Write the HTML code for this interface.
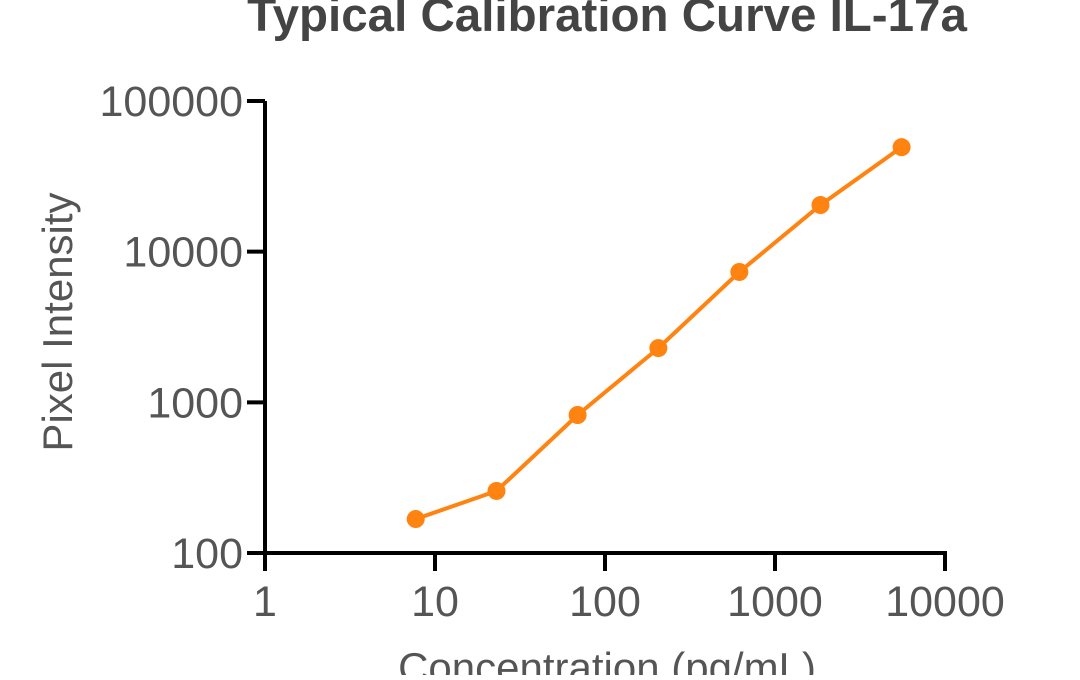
<!DOCTYPE html>
<html><head><meta charset="utf-8"><style>
body{margin:0;background:#fff;}
svg text{font-family:"Liberation Sans",Arial,sans-serif;}
</style></head><body>
<svg width="1080" height="675" viewBox="0 0 1080 675">
<text x="607" y="31" text-anchor="middle" font-size="47.5" font-weight="bold" fill="#444">Typical Calibration Curve IL-17a</text>
<g id="axes"></g>
<g id="marks"></g>
<text x="0" y="0" transform="translate(72,322) rotate(-90)" text-anchor="middle" font-size="42" fill="#555">Pixel Intensity</text>
<text x="607" y="682" text-anchor="middle" font-size="42" fill="#555">Concentration (pg/mL)</text>
</svg>
<script>
const concentrations=[7.7,23,69,206,617,1852,5556];
const intensities=[168,258,824,2290,7330,20400,49400];
const xTicks=[1,10,100,1000,10000];
const xTickLabels=["1","10","100","1000","10000"];
const yTicks=[100,1000,10000,100000];
const yTickLabels=["100","1000","10000","100000"];
const X0=265,X1=945,Y0=553,Y1=101;
function xs(v){return X0+(Math.log10(v)-0)/4*(X1-X0);}
function ys(v){return Y0-(Math.log10(v)-2)/3*(Y0-Y1);}
const NS="http://www.w3.org/2000/svg";
const axes=document.getElementById('axes'),marks=document.getElementById('marks');
function mk(tag,attrs,parent){const e=document.createElementNS(NS,tag);for(const k in attrs)e.setAttribute(k,attrs[k]);parent.appendChild(e);return e;}
let l=mk('line',{x1:X0,y1:Y0,x2:X1+2,y2:Y0,stroke:'#000','stroke-width':4},axes);


l=mk('line',{x1:X0,y1:Y1,x2:X0,y2:Y0+2,stroke:'#000','stroke-width':4},axes);


xTicks.forEach((t,i)=>{
 const x=xs(t);
 let tk=mk('line',{x1:x,y1:Y0,x2:x,y2:Y0+18,stroke:'#000','stroke-width':4},axes);
 
 
 let tx=mk('text',{x:x,y:Y0+63,'text-anchor':'middle','font-size':43,fill:'#555'},axes);
 tx.textContent=xTickLabels[i];
 
 
});
yTicks.forEach((t,i)=>{
 const y=ys(t);
 let tk=mk('line',{x1:X0-18,y1:y,x2:X0,y2:y,stroke:'#000','stroke-width':4},axes);
 
 
 let tx=mk('text',{x:X0-22,y:y+15,'text-anchor':'end','font-size':43,fill:'#555'},axes);
 tx.textContent=yTickLabels[i];
 
 
});
const pts=concentrations.map((c,i)=>xs(c)+','+ys(intensities[i])).join(' ');
let pl=mk('polyline',{points:pts,fill:'none',stroke:'#ff8310','stroke-width':4},marks);


concentrations.forEach((c,i)=>{
 let p=mk('circle',{cx:xs(c),cy:ys(intensities[i]),r:9,fill:'#ff8310'},marks);
 
 
});
</script>
</body></html>
